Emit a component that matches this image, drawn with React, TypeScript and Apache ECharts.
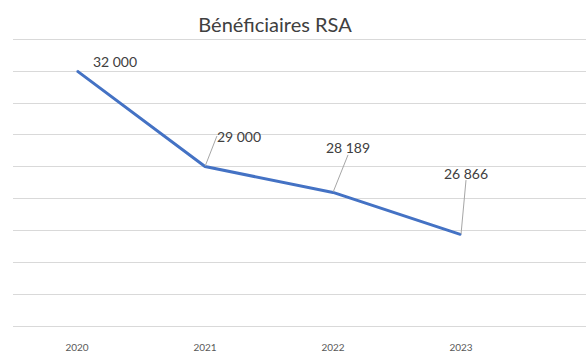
import React, { useEffect, useRef } from "react";
import * as echarts from "echarts";

const categories = ["2020", "2021", "2022", "2023", ""];
const beneficiaries = [32000, 29000, 28189, 26866];
const titleText = "Bénéficiaires RSA";
const yMin = 24000;
const yMax = 33000;
const yStep = 1000;

// label offsets (layout only)
const labelOffsets = [
  { dx: 38, dy: 3, line: false },
  { dx: 34, dy: -18, line: true },
  { dx: 15, dy: -32, line: true },
  { dx: 5, dy: -49, line: true },
];

const fmt = (v: number) => String(v).replace(/\B(?=(\d{3})+(?!\d))/g, " ");

export default function App() {
  const ref = useRef<HTMLDivElement>(null);
  useEffect(() => {
    if (!ref.current) return;
    const chart = echarts.init(ref.current, null, { renderer: "svg" });
    chart.setOption({
      animation: false,
      backgroundColor: "#ffffff",
      title: {
        text: titleText,
        left: 270,
        top: 9,
        textAlign: "center",
        textStyle: {
          fontFamily: "Lato",
          fontSize: 20,
          fontWeight: "normal",
          color: "#404040",
        },
      },
      grid: { left: 13, top: 39, bottom: 28, width: 640 },
      xAxis: {
        type: "category",
        data: categories,
        boundaryGap: true,
        axisLine: { show: false },
        axisTick: { show: false },
        axisLabel: {
          margin: 16,
          fontFamily: "Lato",
          fontSize: 10,
          color: "#595959",
        },
      },
      yAxis: {
        type: "value",
        min: yMin,
        max: yMax,
        interval: yStep,
        axisLabel: { show: false },
        axisLine: { show: false },
        axisTick: { show: false },
        splitLine: { lineStyle: { color: "#d9d9d9", width: 1 } },
      },
      series: [
        {
          type: "line",
          data: beneficiaries.map((v, i) => ({
            value: v,
            labelLine: { show: labelOffsets[i].line },
          })),
          symbol: "circle",
          symbolSize: 1,
          showSymbol: true,
          lineStyle: { color: "#4472C4", width: 3 },
          itemStyle: { color: "#4472C4" },
          label: {
            show: true,
            position: "top",
            formatter: (p: any) => fmt(p.value),
            fontFamily: "Lato",
            fontSize: 14,
            color: "#404040",
          },
          labelLine: {
            show: true,
            lineStyle: { color: "#a6a6a6", width: 1 },
          },
          labelLayout: (params: any) => {
            const o = labelOffsets[params.dataIndex];
            return o ? { dx: o.dx, dy: o.dy } : {};
          },
        },
      ],
    });
    return () => chart.dispose();
  }, []);
  return (
    <div
      style={{
        position: "absolute",
        left: 0,
        top: 0,
        width: 586,
        height: 354,
        overflow: "hidden",
        background: "#ffffff",
      }}
    >
      <div ref={ref} style={{ width: 660, height: 354 }} />
    </div>
  );
}
